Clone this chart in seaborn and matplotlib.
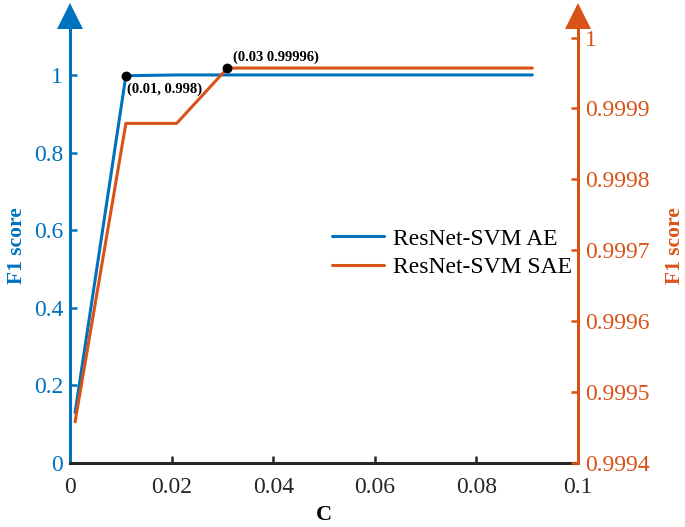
import matplotlib
matplotlib.use("Agg")
import matplotlib.pyplot as plt
import matplotlib.transforms as mtransforms
import seaborn as sns
import numpy as np

# ---- data ----
C_values = [0.001, 0.011, 0.021, 0.031, 0.041, 0.051, 0.061, 0.071, 0.081, 0.091]
f1_ae = [0.13, 0.998, 1.0, 1.0, 1.0, 1.0, 1.0, 1.0, 1.0, 1.0]
f1_sae = [0.999458, 0.999879, 0.999879, 0.999957, 0.999957, 0.999957, 0.999957, 0.999957, 0.999957, 0.999957]
label_ae = "ResNet-SVM AE"
label_sae = "ResNet-SVM SAE"
pt_ae = (0.011, 0.998)
pt_sae = (0.031, 0.999957)
txt_ae = "(0.01, 0.998)"
txt_sae = "(0.03 0.99996)"
left_ticks = [0, 0.2, 0.4, 0.6, 0.8, 1]
left_ticklabels = ["0", "0.2", "0.4", "0.6", "0.8", "1"]
right_ticks = [0.9994, 0.9995, 0.9996, 0.9997, 0.9998, 0.9999, 1.0]
right_ticklabels = ["0.9994", "0.9995", "0.9996", "0.9997", "0.9998", "0.9999", "1"]
x_ticks = [0, 0.02, 0.04, 0.06, 0.08, 0.1]
x_ticklabels = ["0", "0.02", "0.04", "0.06", "0.08", "0.1"]

BLUE = "#0072BD"
ORANGE = "#D95319"

sns.set_style("white")
plt.rcParams["font.family"] = ["Liberation Serif", "DejaVu Serif"]

fig = plt.figure(figsize=(6.85, 5.27), dpi=100)
ax = fig.add_axes([70/685, 64/527, 508/685, 435/527])
ax2 = ax.twinx()

LW = 2.2
sns.lineplot(x=C_values, y=f1_ae, ax=ax, color=BLUE, linewidth=LW, label=label_ae)
sns.lineplot(x=C_values, y=f1_sae, ax=ax2, color=ORANGE, linewidth=LW, label=label_sae)

sns.scatterplot(x=[pt_ae[0]], y=[pt_ae[1]], ax=ax, color="black", s=50, zorder=5, linewidth=0)
sns.scatterplot(x=[pt_sae[0]], y=[pt_sae[1]], ax=ax2, color="black", s=50, zorder=5, linewidth=0)

h1, l1 = ax.get_legend_handles_labels()
h2, l2 = ax2.get_legend_handles_labels()
for a in (ax, ax2):
    if a.get_legend() is not None:
        a.get_legend().remove()

ax.annotate(txt_ae, xy=pt_ae, xytext=(1, -10), textcoords="offset points",
            ha="left", va="center", fontsize=10.5, fontweight="bold", color="black")
ax2.annotate(txt_sae, xy=pt_sae, xytext=(4, 8), textcoords="offset points",
             ha="left", va="center", fontsize=10.5, fontweight="bold", color="black")

ax.set_xlim(0, 0.1)
ax.set_ylim(0, 1.121)
ax2.set_ylim(0.9994, 1.0000135)

ax.set_xticks(x_ticks)
ax.set_xticklabels(x_ticklabels)
ax.set_yticks(left_ticks)
ax.set_yticklabels(left_ticklabels)
ax2.set_yticks(right_ticks)
ax2.set_yticklabels(right_ticklabels)

FS = 17
ax.tick_params(axis="x", direction="in", length=5, width=1.8, colors="#262626",
               labelsize=FS, pad=10, top=False, bottom=True)
ax.tick_params(axis="y", direction="in", length=5, width=1.8, colors=BLUE,
               labelsize=FS, pad=5, left=True, right=False)
ax2.tick_params(axis="y", direction="in", length=5, width=1.8, colors=ORANGE,
                labelsize=FS, pad=5, right=True, left=False)

for s in ["top", "right"]:
    ax.spines[s].set_visible(False)
for s in ["top", "left", "bottom"]:
    ax2.spines[s].set_visible(False)
ax.spines["left"].set_color(BLUE)
ax.spines["left"].set_linewidth(2.2)
ax.spines["bottom"].set_color("#262626")
ax.spines["bottom"].set_linewidth(2.2)
ax2.spines["right"].set_color(ORANGE)
ax2.spines["right"].set_linewidth(2.2)

ax.set_xlabel("C", fontsize=16, fontweight="bold", color="black", labelpad=5)
ax.set_ylabel("F1 score", fontsize=15.5, fontweight="bold", color=BLUE, labelpad=5)
ax2.set_ylabel("F1 score", fontsize=15.5, fontweight="bold", color=ORANGE, labelpad=11)

# arrow heads on the y spines
MS = 19
tr = mtransforms.offset_copy(ax.transAxes, fig=fig, x=0, y=MS / 2 - 1, units="points")
ax.plot([0], [1], marker="^", ms=MS, color=BLUE, transform=tr, clip_on=False, mew=0)
ax.plot([1], [1], marker="^", ms=MS, color=ORANGE, transform=tr, clip_on=False, mew=0)

leg = ax2.legend(h1[:1] + h2[:1], [label_ae, label_sae], loc="upper left",
                 bbox_to_anchor=(0.515, 0.54), frameon=False, fontsize=FS,
                 handlelength=2.2, handletextpad=0.4, labelspacing=0.3,
                 borderaxespad=0, borderpad=0)
for t in leg.get_texts():
    t.set_color("black")

fig.savefig("out.png", dpi=100)
